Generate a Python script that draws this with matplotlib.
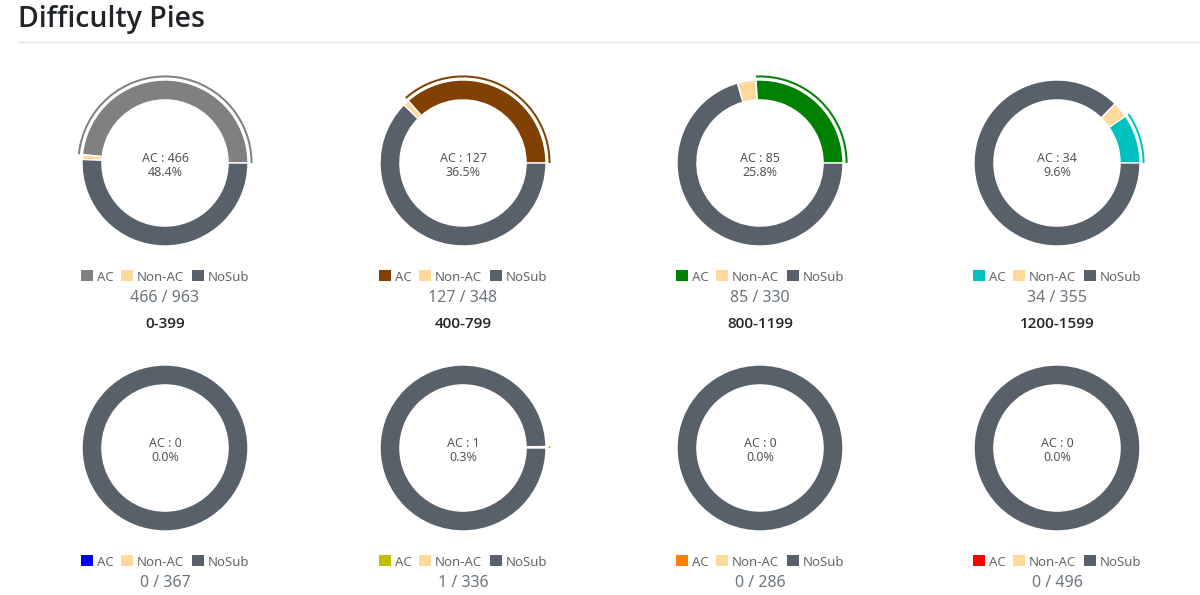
import matplotlib
matplotlib.use('Agg')
from matplotlib import pyplot as plt
from matplotlib.patches import Wedge, Patch
from matplotlib import font_manager

plt.rcParams['font.family'] = ['Noto Sans', 'DejaVu Sans']

W, H = 1200, 595

ranges    = ['0-399', '400-799', '800-1199', '1200-1599',
             '1600-1999', '2000-2399', '2400-2799', '2800-']
ac        = [466, 127, 85, 34, 0, 1, 0, 0]
non_ac    = [9, 4, 12, 11, 0, 0, 0, 0]
totals    = [963, 348, 330, 355, 367, 336, 286, 496]
ac_colors = ['#808080', '#804000', '#008000', '#00C0C0',
             '#0000FF', '#C0C000', '#FF8000', '#FF0000']
labels    = ['AC', 'Non-AC', 'NoSub']

NONAC_COLOR = '#FFDA9A'
NOSUB_COLOR = '#58616A'

col_x = [165, 463, 760, 1057]                                                   # pie centres in pixels
row_y = [163, 448]
R     = 83                                                                      # outer radius in pixels
BOX   = 200                                                                     # axes size in pixels
LIM   = BOX / 2 / R

# pick a family with a real static bold face (variable fonts don't embolden)
bold_family = 'DejaVu Sans'
for fam in ['Open Sans', 'Lato', 'Roboto', 'Noto Sans', 'Liberation Sans']:
  try:
    p = font_manager.findfont(font_manager.FontProperties(family=fam, weight='bold'),
                              fallback_to_default=False).lower()
  except Exception:
    continue
  name = p.rsplit('/', 1)[-1]
  if 'bold' in name and '[' not in name:
    bold_family = fam
    break

fig = plt.figure(figsize=(W / 100, H / 100), dpi=100)

def fx(x): return x / W
def fy(y): return 1 - y / H

fig.text(fx(18), fy(20), 'Difficulty Pies', fontsize=20.5, fontweight='semibold',
         family=[bold_family, 'DejaVu Sans'], color='#212529', va='center', ha='left')
fig.add_artist(plt.Line2D([fx(18), 1], [fy(42), fy(42)], color='#e5e5e5', lw=1))

for i in range(8):
  cx, cy = col_x[i % 4], row_y[i // 4]
  ax = fig.add_axes([fx(cx - BOX / 2), fy(cy + BOX / 2), BOX / W, BOX / H])
  nosub = totals[i] - ac[i] - non_ac[i]
  colors = [ac_colors[i], NONAC_COLOR, NOSUB_COLOR]
  ax.pie([ac[i], non_ac[i], nosub], colors=colors, startangle=0, counterclock=True,
         radius=1, wedgeprops=dict(width=0.24, edgecolor='white', linewidth=1))
  # highlighted arc around the AC slice
  theta = 360 * ac[i] / totals[i]
  if ac[i] > 0:
    ax.add_patch(Wedge((0, 0), 1.055, 0, theta, width=0.024,
                       facecolor=ac_colors[i], edgecolor='none'))
  ax.set_xlim(-LIM, LIM)
  ax.set_ylim(-LIM, LIM)
  ax.set_aspect('equal')
  ax.axis('off')

  pct = 100 * ac[i] / totals[i]
  ax.text(0, 0.06, f'AC : {ac[i]}', ha='center', va='center', fontsize=9, color='#555555')
  ax.text(0, -0.11, f'{pct:.1f}%', ha='center', va='center', fontsize=9, color='#555555')

  handles = [Patch(facecolor=c, edgecolor='none') for c in colors]
  fig.legend(handles, labels, ncol=3, loc='center', frameon=False,
             bbox_to_anchor=(fx(cx), fy(cy + 114)), fontsize=9.5,
             handlelength=0.9, handleheight=0.9, handletextpad=0.3,
             columnspacing=0.6, labelcolor='#666666')

  fig.text(fx(cx), fy(cy + 135), f'{ac[i]} / {totals[i]}', ha='center', va='center',
           fontsize=11.5, color='#6c757d')
  if cy + 161 < H - 8:                                                          # second-row labels fall below the page
    fig.text(fx(cx), fy(cy + 161), ranges[i], ha='center', va='center',
             fontsize=11, fontweight='semibold', family=[bold_family, 'DejaVu Sans'],
             color='#212529')

fig.savefig('out.png', dpi=100)
